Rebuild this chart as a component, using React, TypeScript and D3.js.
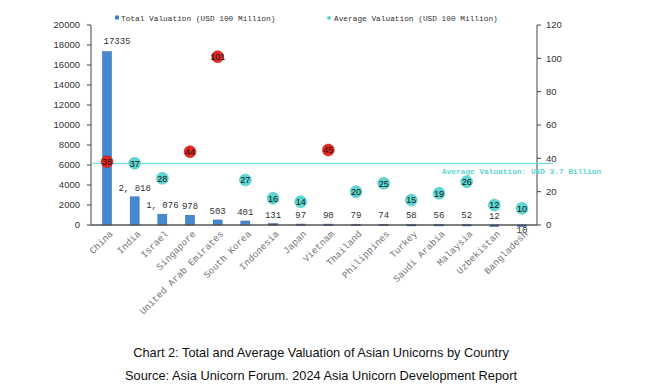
import React from "react";
import * as d3 from "d3";

const countries = [
  "China", "India", "Israel", "Singapore", "United Arab Emirates", "South Korea",
  "Indonesia", "Japan", "Vietnam", "Thailand", "Philippines", "Turkey",
  "Saudi Arabia", "Malaysia", "Uzbekistan", "Bangladesh",
];
const totalValuation = [17335, 2818, 1076, 978, 503, 401, 131, 97, 90, 79, 74, 58, 56, 52, 12, 10];
const averageValuation = [38, 37, 28, 44, 101, 27, 16, 14, 45, 20, 25, 15, 19, 26, 12, 10];
const overallAverage = 37;
const leftTicks = [0, 2000, 4000, 6000, 8000, 10000, 12000, 14000, 16000, 18000, 20000];
const rightTicks = [0, 20, 40, 60, 80, 100, 120];

const W = 650, H = 392;
const left = 91, right = 537, top = 25, bottom = 225;
const barW = 9;

const mono = "'Liberation Mono', 'DejaVu Sans Mono', monospace";
const sans = "'Liberation Sans', Arial, sans-serif";
const teal = "#5cd6d2";

const App = () => {
  const x = d3.scalePoint<string>().domain(countries).range([107, 522]);
  const yL = d3.scaleLinear().domain([0, 20000]).range([bottom, top]);
  const yR = d3.scaleLinear().domain([0, 120]).range([bottom, top]);
  const cx = (c: string) => x(c) as number;
  const fmt = (v: number, i: number) => (i === 0 ? String(v) : d3.format(",")(v).replace(",", ", "));

  return (
    <svg width={W} height={H} style={{ position: "absolute", left: 0, top: 0, background: "#fff" }}>
      {/* legend */}
      <rect x={115} y={15.5} width={4} height={4} fill="#3f7fcb" />
      <text x={121} y={20.5} fontFamily={mono} fontSize={7.8} fill="#333">Total Valuation (USD 100 Million)</text>
      <circle cx={329} cy={18} r={2} fill={teal} />
      <text x={334} y={20.5} fontFamily={mono} fontSize={7.8} fill="#333">Average Valuation (USD 100 Million)</text>

      {/* left axis */}
      <line x1={left} x2={left} y1={top} y2={bottom} stroke="#444" />
      {leftTicks.map((t) => (
        <g key={"l" + t}>
          <line x1={left - 4} x2={left} y1={yL(t)} y2={yL(t)} stroke="#444" />
          <text x={80} y={yL(t)} dy="0.35em" textAnchor="end" fontFamily={sans} fontSize={9.5} fill="#333">{t}</text>
        </g>
      ))}
      {/* right axis */}
      <line x1={right} x2={right} y1={top} y2={bottom} stroke="#444" />
      {rightTicks.map((t) => (
        <g key={"r" + t}>
          <line x1={right} x2={right + 4} y1={yR(t)} y2={yR(t)} stroke="#444" />
          <text x={546} y={yR(t)} dy="0.35em" fontFamily={sans} fontSize={9.5} fill="#333">{t}</text>
        </g>
      ))}

      {/* bars */}
      {countries.map((c, i) => (
        <rect key={"b" + c} x={cx(c) - barW / 2} y={yL(totalValuation[i])} width={barW}
          height={Math.max(bottom - yL(totalValuation[i]), 1.5)}
          fill={totalValuation[i] > 200 ? "#4589d0" : "#1f3d9a"} stroke="#2d62a8" strokeWidth={0.5} />
      ))}
      {/* x axis */}
      <line x1={left} x2={right} y1={bottom} y2={bottom} stroke="#555" strokeWidth={1.5} />

      {/* bar labels */}
      {countries.map((c, i) => {
        const last = i === countries.length - 1;
        const lx = i === 0 ? cx(c) + 10 : cx(c);
        const ly = last ? bottom + 8 : yL(totalValuation[i]) - (i === 0 ? 8 : 6);
        return (
          <text key={"bl" + c} x={lx} y={ly} textAnchor="middle" fontFamily={mono} fontSize={9} fill="#333">
            {fmt(totalValuation[i], i)}
          </text>
        );
      })}

      {/* average line */}
      <line x1={left} x2={553} y1={yR(overallAverage)} y2={yR(overallAverage)} stroke={teal} strokeWidth={1} />
      <text x={442} y={173.5} fontFamily={mono} fontSize={7.8} fontWeight="bold" fill={teal}>
        Average Valuation: USD 3.7 Billion
      </text>

      {/* average dots */}
      {countries.map((c, i) => {
        const hi = averageValuation[i] > overallAverage;
        return (
          <g key={"d" + c}>
            <circle cx={cx(c)} cy={yR(averageValuation[i])} r={6}
              fill={hi ? "#e5281f" : teal} stroke={hi ? "#b81a14" : "#4cc4c0"} strokeWidth={0.5} />
            <text x={cx(c)} y={yR(averageValuation[i])} dy="0.36em" textAnchor="middle"
              fontFamily={sans} fontSize={9} fill="#111">{averageValuation[i]}</text>
          </g>
        );
      })}

      {/* x labels */}
      {countries.map((c) => (
        <text key={"x" + c} transform={`translate(${cx(c) + 4},${bottom + 7}) rotate(-45)`}
          dy="0.35em" textAnchor="end" fontFamily={mono} fontSize={9.5} fill="#777">{c}</text>
      ))}

      {/* caption */}
      <text x={W / 2 - 4} y={357} textAnchor="middle" fontFamily={sans} fontSize={12.8} fill="#111">
        Chart 2: Total and Average Valuation of Asian Unicorns by Country
      </text>
      <text x={W / 2 - 4} y={380} textAnchor="middle" fontFamily={sans} fontSize={12.8} fill="#111">
        Source: Asia Unicorn Forum. 2024 Asia Unicorn Development Report
      </text>
    </svg>
  );
};

export default App;
